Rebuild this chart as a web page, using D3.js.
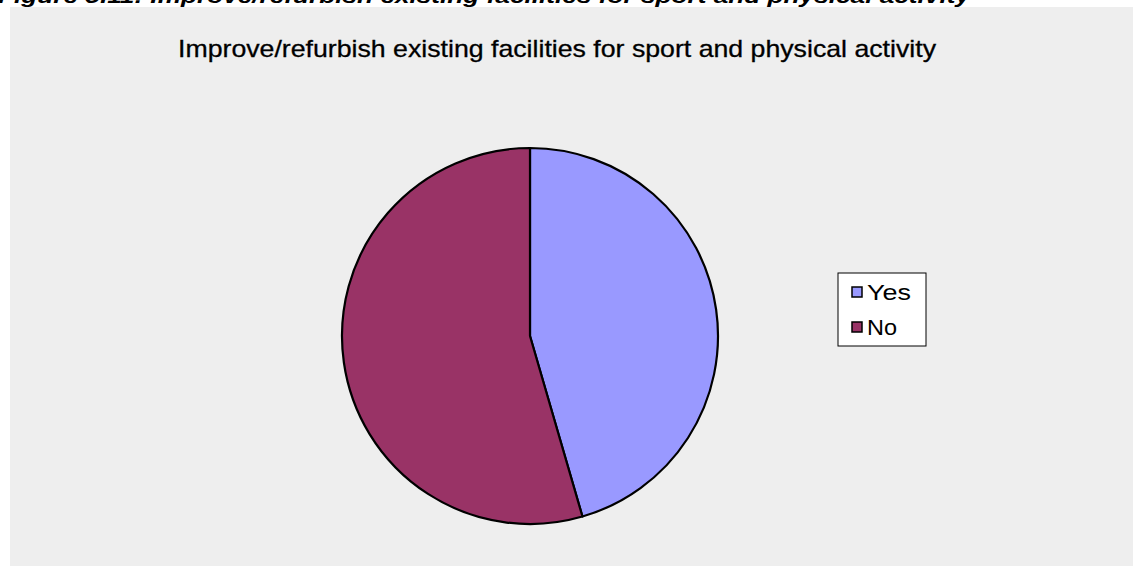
<!DOCTYPE html>
<html>
<head>
<meta charset="utf-8">
<script src="https://cdn.jsdelivr.net/npm/d3@7"></script>
<style>
  html, body { margin: 0; padding: 0; background: #ffffff; }
  svg { display: block; }
</style>
</head>
<body>
<svg id="chart" width="1133" height="566"></svg>
<script>
// Survey responses (percent of respondents)
const categories = ["Yes", "No"];
const values = [45.5, 54.5];
const colors = ["#9999FF", "#993366"];

const captionText = "Figure 5.11: Improve/refurbish existing facilities for sport and physical activity";
const titleText = "Improve/refurbish existing facilities for sport and physical activity";

const svg = d3.select("#chart");
const W = 1133, H = 566;
const font = "Liberation Sans, Arial, sans-serif";

// Report caption sitting above the chart area
svg.append("text")
  .attr("x", -2)
  .attr("y", 3)
  .attr("font-family", font)
  .attr("font-size", 21)
  .attr("font-weight", "bold")
  .attr("font-style", "italic")
  .attr("textLength", 972)
  .attr("lengthAdjust", "spacingAndGlyphs")
  .attr("fill", "#000")
  .text(captionText);

// Chart area
svg.append("rect")
  .attr("x", 10).attr("y", 7)
  .attr("width", W - 10).attr("height", H - 7)
  .attr("fill", "#EEEEEE");

// Chart title
svg.append("text")
  .attr("x", 178)
  .attr("y", 57)
  .attr("font-family", font)
  .attr("font-size", 24)
  .attr("textLength", 758)
  .attr("lengthAdjust", "spacingAndGlyphs")
  .attr("stroke", "#000")
  .attr("stroke-width", 0.3)
  .attr("fill", "#000")
  .text(titleText);

// Pie
const cx = 530, cy = 336, r = 188;
const pie = d3.pie().sort(null).value(d => d.value);
const arc = d3.arc().innerRadius(0).outerRadius(r);
const data = categories.map((c, i) => ({ name: c, value: values[i], color: colors[i] }));

const g = svg.append("g").attr("transform", `translate(${cx},${cy})`);
g.selectAll("path")
  .data(pie(data))
  .join("path")
  .attr("d", arc)
  .attr("fill", d => d.data.color)
  .attr("stroke", "#000")
  .attr("stroke-width", 2.2)
  .attr("stroke-linejoin", "round");

// Legend
const lg = svg.append("g").attr("transform", "translate(838,273)");
lg.append("rect")
  .attr("width", 88).attr("height", 73)
  .attr("fill", "#fff")
  .attr("stroke", "#000")
  .attr("stroke-width", 1);

const rowH = 35;
const item = lg.selectAll("g.item")
  .data(data)
  .join("g")
  .attr("class", "item")
  .attr("transform", (d, i) => `translate(0,${i * rowH})`);

item.append("rect")
  .attr("x", 14).attr("y", 14)
  .attr("width", 10).attr("height", 10)
  .attr("fill", d => d.color)
  .attr("stroke", "#000")
  .attr("stroke-width", 1.5);

item.append("text")
  .attr("x", 29)
  .attr("y", 27)
  .attr("font-family", font)
  .attr("font-size", 22)
  .attr("textLength", d => d.name === "Yes" ? 44 : 30)
  .attr("lengthAdjust", "spacingAndGlyphs")
  .attr("fill", "#000")
  .text(d => d.name);
</script>
</body>
</html>
